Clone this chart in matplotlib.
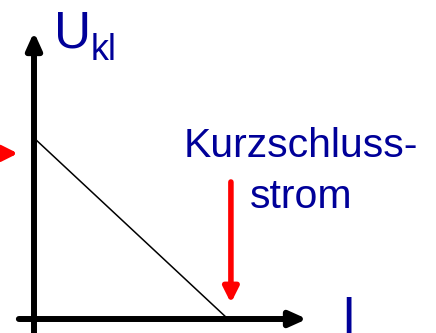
import matplotlib
matplotlib.use("Agg")
import matplotlib.pyplot as plt

# characteristic of a real voltage source (normalised)
U_0 = 1.0      # open circuit voltage
I_k = 1.0      # short circuit current
line_I = [0.0, I_k]
line_U = [U_0, 0.0]

axis_label_U = "U"
axis_label_U_sub = "kl"
axis_label_I = "I"
note_lines = ["Kurzschluss-", "strom"]

blue = "#000099"
red = "#ff0000"

fig = plt.figure(figsize=(4.36, 3.33), dpi=100)
ax = fig.add_axes([0, 0, 1, 1])
# pixel layout: origin at (34, 319), U_0 at y=138, I_k at x=228
ax.set_xlim(-34 / 194, (436 - 34) / 194)
ax.set_ylim(-(333 - 319) / 181, 319 / 181)
ax.axis("off")


def arrow(x0, y0, x1, y1, color, lw, hl, hw):
    ax.annotate("", xy=(x1, y1), xytext=(x0, y0),
                arrowprops=dict(arrowstyle="-|>,head_length=%g,head_width=%g" % (hl, hw),
                                color=color, lw=lw, shrinkA=0, shrinkB=0,
                                mutation_scale=1),
                annotation_clip=False)


# axes
arrow(0, -0.08, 0, (319 - 32) / 181, "k", 4.3, 10, 4.5)
arrow(-0.078, 0, (307 - 34) / 194, 0, "k", 4.3, 10, 4.5)

# characteristic line
ax.plot(line_I, line_U, color="k", lw=1.1, solid_capstyle="butt")

# red arrows
arrow(-0.4, 0.915, -0.083, 0.915, red, 3.5, 9, 4.5)
arrow(I_k + 0.015, 0.757, I_k + 0.015, 0.088, red, 4.0, 9, 4.5)

# labels
ax.text((54 - 34) / 194, (319 - 47) / 181, axis_label_U, color=blue,
        fontsize=37, family="Liberation Sans", ha="left", va="baseline")
ax.text((91 - 34) / 194, (319 - 60) / 181, axis_label_U_sub, color=blue,
        fontsize=26, family="Liberation Sans", ha="left", va="baseline")
ax.text((341 - 34) / 194, (319 - 333) / 181, axis_label_I, color=blue,
        fontsize=37, family="Liberation Sans", ha="left", va="baseline")

ax.text(1.376, (319 - 157) / 181, note_lines[0], color=blue,
        fontsize=29.5, family="Liberation Sans", ha="center", va="baseline")
ax.text(1.376, (319 - 208) / 181, note_lines[1], color=blue,
        fontsize=29.5, family="Liberation Sans", ha="center", va="baseline")

fig.savefig("out.png", dpi=100)
